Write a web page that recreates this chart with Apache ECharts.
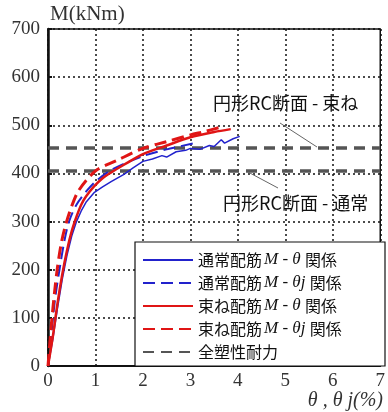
<!DOCTYPE html>
<html>
<head>
<meta charset="utf-8">
<script src="https://cdn.jsdelivr.net/npm/echarts@6/dist/echarts.min.js"></script>
<style>
html, body { margin: 0; padding: 0; background: #fff; }
#chart { width: 388px; height: 412px; }
</style>
</head>
<body>
<div id="chart"></div>
<script>
// rotation θ (%) , moment M (kNm)
var normalMTheta = [[0,0],[0.1,55],[0.2,120],[0.3,180],[0.4,230],[0.5,270],[0.6,300],[0.7,322],[0.8,340],[0.97,360],[1.15,372],[1.33,383],[1.6,398],[1.8,412],[2.0,425],[2.2,430],[2.4,437],[2.5,434],[2.7,445],[2.9,448],[3.0,452],[3.2,450],[3.4,458],[3.5,456],[3.65,470],[3.72,463],[3.9,472],[4.04,477]];
var normalMThetaJ = [[0,0],[0.08,75],[0.15,140],[0.25,205],[0.35,262],[0.45,302],[0.6,335],[0.8,362],[1.0,383],[1.3,405],[1.6,420],[2.0,436],[2.5,450],[3.1,463]];
var bundleMTheta = [[0,0],[0.1,60],[0.2,130],[0.3,190],[0.4,240],[0.5,280],[0.6,310],[0.7,335],[0.8,352],[0.97,373],[1.15,390],[1.33,402],[1.6,418],[2.0,440],[2.5,458],[3.0,475],[3.5,486],[3.85,492]];
var bundleMThetaJ = [[0,0],[0.07,85],[0.14,155],[0.2,205],[0.28,255],[0.38,296],[0.5,332],[0.62,360],[0.8,385],[1.04,408],[1.43,426],[2.0,452],[2.5,466],[3.0,480],[3.3,487],[3.6,495]];
var plasticBundle = 453;
var plasticNormal = 405;
var xTicks = ['0','1','2','3','4','5','6','7'];
var yTicks = ['0','100','200','300','400','500','600','700'];
var legendNames = ['通常配筋M-θ関係','通常配筋M-θj関係','束ね配筋M-θ関係','束ね配筋M-θj関係','全塑性耐力'];

var chart = echarts.init(document.getElementById('chart'));
var serif = 'Liberation Serif';
var jp = 'Noto Sans CJK JP';
var gridLine = {show: true, lineStyle: {color: '#111', width: 1.5, type: [2, 3]}};

var option = {
    animation: false,
    backgroundColor: '#fff',
    grid: {left: 48, right: 3, top: 29, bottom: 46, show: true, borderColor: '#111', borderWidth: 1.5},
    xAxis: {
        type: 'value', min: 0, max: 7, interval: 1,
        axisLine: {show: true, lineStyle: {color: '#111', width: 2}},
        axisTick: {show: false},
        axisLabel: {fontFamily: serif, fontSize: 19, color: '#333', margin: 6,
            formatter: function (v) { return xTicks[v]; }},
        splitLine: gridLine
    },
    yAxis: {
        type: 'value', min: 0, max: 700, interval: 100,
        name: 'M(kNm)', nameLocation: 'end', nameGap: 4,
        nameTextStyle: {fontFamily: serif, fontSize: 21, color: '#333', align: 'left', verticalAlign: 'bottom', padding: [0, 0, 0, 2]},
        axisLine: {show: true, lineStyle: {color: '#111', width: 2.5}},
        axisTick: {show: true, inside: true, length: 4, lineStyle: {color: '#111', width: 2}},
        axisLabel: {fontFamily: serif, fontSize: 19, color: '#333', margin: 8,
            formatter: function (v) { return yTicks[v / 100]; }},
        splitLine: gridLine
    },
    legend: {
        orient: 'vertical', left: 142, top: 250, padding: 0,
        itemWidth: 50, itemHeight: 2, itemGap: 3, itemTextGap: 10,
        itemStyle: {opacity: 0},
        data: legendNames,
        formatter: function (name) {
            return name.replace(/M-θ(j?)/, function (m, j) { return '{i|M - θ' + j + ' }'; });
        },
        textStyle: {fontFamily: jp, fontSize: 16, color: '#111', lineHeight: 20,
            rich: {i: {fontFamily: serif, fontStyle: 'italic', fontSize: 17, color: '#111', lineHeight: 20, padding: [0, 0, 0, 2]}}}
    },
    graphic: [
        {type: 'rect', z: 3, shape: {x: 135, y: 242, width: 250, height: 124},
            style: {fill: '#fff', stroke: '#111', lineWidth: 1.2}},
        {type: 'text', z: 5, left: 213, top: 94,
            style: {text: '円形RC断面 - 束ね', font: '18px "Noto Sans CJK JP"', fill: '#111'}},
        {type: 'text', z: 5, left: 223, top: 194,
            style: {text: '円形RC断面 - 通常', font: '18px "Noto Sans CJK JP"', fill: '#111'}},
        {type: 'line', z: 5, shape: {x1: 280, y1: 123, x2: 317, y2: 147}, style: {stroke: '#666', lineWidth: 1}},
        {type: 'line', z: 5, shape: {x1: 248, y1: 172, x2: 278, y2: 188}, style: {stroke: '#666', lineWidth: 1}},
        {type: 'text', z: 5, right: 5, top: 391,
            style: {text: 'θ , θ j(%)', font: 'italic 20px "Liberation Serif"', fill: '#333'}}
    ],
    series: [
        {name: legendNames[4], type: 'line', showSymbol: false, symbol: 'none', z: 1,
            data: [[0, plasticBundle], [7, plasticBundle]],
            lineStyle: {color: '#555', width: 3.5, type: [11, 7]}, itemStyle: {color: '#555'}},
        {name: legendNames[4], type: 'line', showSymbol: false, symbol: 'none', z: 1,
            data: [[0, plasticNormal], [7, plasticNormal]],
            lineStyle: {color: '#555', width: 3.5, type: [11, 7]}, itemStyle: {color: '#555'}},
        {name: legendNames[0], type: 'line', showSymbol: false, symbol: 'none', data: normalMTheta,
            lineStyle: {color: '#2222cc', width: 1.5}, itemStyle: {color: '#2222cc'}},
        {name: legendNames[1], type: 'line', showSymbol: false, symbol: 'none', data: normalMThetaJ, smooth: 0.3,
            lineStyle: {color: '#2222cc', width: 2, type: [12, 6]}, itemStyle: {color: '#2222cc'}},
        {name: legendNames[2], type: 'line', showSymbol: false, symbol: 'none', data: bundleMTheta, smooth: 0.3,
            lineStyle: {color: '#e01515', width: 2.5}, itemStyle: {color: '#e01515'}},
        {name: legendNames[3], type: 'line', showSymbol: false, symbol: 'none', data: bundleMThetaJ, smooth: 0.3,
            lineStyle: {color: '#e01515', width: 3, type: [12, 6]}, itemStyle: {color: '#e01515'}}
    ]
};
chart.setOption(option);
</script>
</body>
</html>
